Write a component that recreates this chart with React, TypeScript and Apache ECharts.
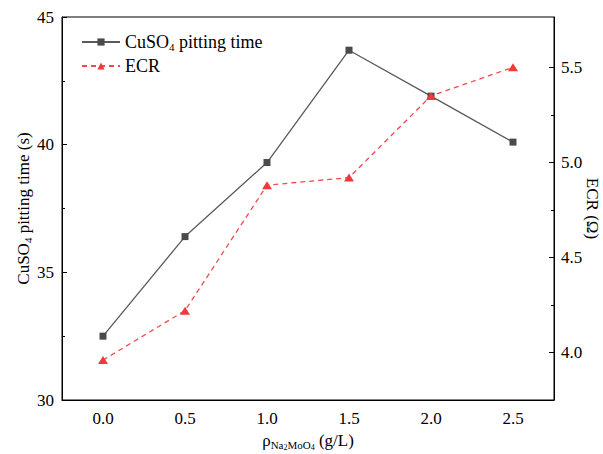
import React, { useEffect, useRef } from "react";
import * as echarts from "echarts";

const categories = ["0.0", "0.5", "1.0", "1.5", "2.0", "2.5"];
const cuso4Time = [32.5, 36.4, 39.3, 43.7, 41.9, 40.1];
const ecr = [3.96, 4.22, 4.88, 4.92, 5.35, 5.5];
const leftTicks = { min: 30, max: 45, interval: 5 };
const rightMajorTicks = [4.0, 4.5, 5.0, 5.5];
const rightMinorTicks = [4.25, 4.75, 5.25];
const rightRange = { min: 3.75, max: 5.765 };

const FONT = "'Liberation Serif', 'Times New Roman', serif";

export default function App() {
  const ref = useRef<HTMLDivElement>(null);
  useEffect(() => {
    if (!ref.current) return;
    const chart = echarts.init(ref.current, null, { renderer: "svg" });
    const rich = {
      n: { fontFamily: FONT, fontSize: 17, color: "#000" },
      t: { fontFamily: FONT, fontSize: 17, color: "#000" },
      sub: { fontFamily: FONT, fontSize: 11, color: "#000", padding: [9, 0, 0, 0] },
      sub2: { fontFamily: FONT, fontSize: 8, color: "#000", padding: [13, 0, 0, 0] },
    };
    const axisLine = { show: true, lineStyle: { color: "#000", width: 1 } };
    chart.setOption({
      animation: false,
      backgroundColor: "#fff",
      textStyle: { fontFamily: FONT },
      grid: {
        left: 62,
        right: 49,
        top: 17,
        bottom: 54,
        show: true,
        borderColor: "#000",
        borderWidth: 1,
        containLabel: false,
        outerBoundsMode: "none",
      },
      legend: {
        left: 76,
        top: 28,
        orient: "vertical",
        itemWidth: 38,
        itemHeight: 9,
        itemGap: 5,
        textStyle: { fontFamily: FONT, fontSize: 18, color: "#000", rich },
        formatter: (name: string) =>
          name === "CuSO4 pitting time" ? "CuSO{sub|4} pitting time" : name,
        data: ["CuSO4 pitting time", "ECR"],
      },
      xAxis: {
        type: "category",
        data: categories,
        boundaryGap: true,
        axisLine,
        axisTick: { inside: true, alignWithLabel: true, length: 5, lineStyle: { color: "#000" } },
        axisLabel: {
          fontFamily: FONT,
          fontSize: 17,
          color: "#000",
          margin: 10,
          formatter: (v: string) => `{t|${v}}`,
          rich,
        },
        splitLine: { show: false },
        name: "{n|ρ}{sub|Na}{sub2|2}{sub|MoO}{sub2|4}{n| (g/L)}",
        nameLocation: "middle",
        nameGap: 30,
        nameMoveOverlap: false,
        nameTextStyle: { fontFamily: FONT, fontSize: 17, color: "#000", rich },
      },
      yAxis: [
        {
          type: "value",
          position: "left",
          min: leftTicks.min,
          max: leftTicks.max,
          interval: leftTicks.interval,
          axisLine,
          axisTick: { show: true, inside: true, length: 5, lineStyle: { color: "#000" } },
          minorTick: { show: true, splitNumber: 2, length: 3, lineStyle: { color: "#000" } },
          axisLabel: {
            fontFamily: FONT,
            fontSize: 17,
            color: "#000",
            margin: 8,
            formatter: (v: number) => `{t|${v}}`,
            rich,
          },
          splitLine: { show: false },
          name: "{n|CuSO}{sub|4}{n| pitting time (s)}",
          nameLocation: "middle",
          nameGap: 29,
          nameRotate: 90,
          nameMoveOverlap: false,
          nameTextStyle: { fontFamily: FONT, fontSize: 17, color: "#000", rich },
        },
        {
          type: "value",
          position: "right",
          min: rightRange.min,
          max: rightRange.max,
          axisLine,
          axisTick: {
            show: true,
            inside: true,
            length: 5,
            customValues: rightMajorTicks,
            lineStyle: { color: "#000" },
          },
          axisLabel: {
            fontFamily: FONT,
            fontSize: 17,
            color: "#000",
            margin: 7,
            customValues: rightMajorTicks,
            formatter: (v: number) => `{t|${v.toFixed(1)}}`,
            rich,
          },
          splitLine: { show: false },
          name: "{n|ECR (Ω)}",
          nameLocation: "middle",
          nameGap: 30,
          nameRotate: -90,
          nameMoveOverlap: false,
          nameTextStyle: { fontFamily: FONT, fontSize: 17, color: "#000", rich },
        },
        {
          type: "value",
          position: "right",
          min: rightRange.min,
          max: rightRange.max,
          axisLine: { show: false },
          axisTick: {
            show: true,
            inside: true,
            length: 3,
            customValues: rightMinorTicks,
            lineStyle: { color: "#000" },
          },
          axisLabel: { show: false },
          splitLine: { show: false },
        },
      ],
      series: [
        {
          name: "CuSO4 pitting time",
          type: "line",
          yAxisIndex: 0,
          data: cuso4Time,
          symbol: "rect",
          symbolSize: 7,
          itemStyle: { color: "#4a4a4a" },
          lineStyle: { color: "#5a5a5a", width: 1.3 },
        },
        {
          name: "ECR",
          type: "line",
          yAxisIndex: 1,
          data: ecr,
          symbol: "triangle",
          symbolSize: [10, 8],
          itemStyle: { color: "#ee3a3a" },
          lineStyle: { color: "#f04a4a", width: 1.3, type: [5, 4] },
        },
      ],
    });
    return () => chart.dispose();
  }, []);
  return (
    <div
      ref={ref}
      style={{ position: "fixed", left: 0, top: 0, width: 603, height: 454 }}
    />
  );
}
